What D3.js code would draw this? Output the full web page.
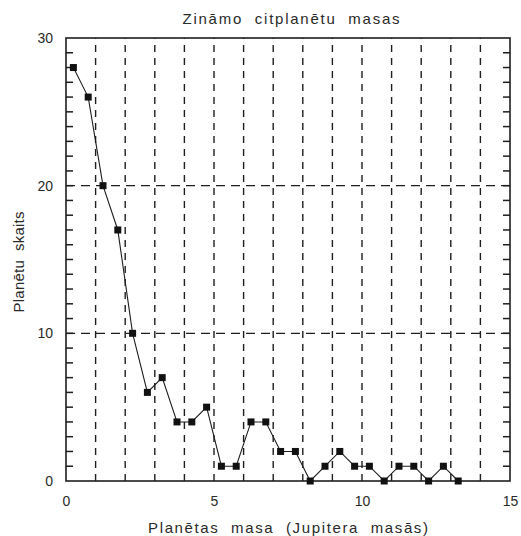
<!DOCTYPE html>
<html>
<head>
<meta charset="utf-8">
<script src="https://cdn.jsdelivr.net/npm/d3@7"></script>
<style>
  body { margin: 0; background: #fff; }
  text { font-family: "Liberation Sans", "DejaVu Sans", sans-serif; fill: #2a2a2a; white-space: pre; }
</style>
</head>
<body>
<div id="chart"></div>
<script>
// Planet mass bins (Jupiter masses, bin centres) and planet counts
const masses = [0.25, 0.75, 1.25, 1.75, 2.25, 2.75, 3.25, 3.75, 4.25, 4.75, 5.25, 5.75, 6.25, 6.75,
                7.25, 7.75, 8.25, 8.75, 9.25, 9.75, 10.25, 10.75, 11.25, 11.75, 12.25, 12.75, 13.25];
const counts = [28, 26, 20, 17, 10, 6, 7, 4, 4, 5, 1, 1, 4, 4,
                2, 2, 0, 1, 2, 1, 1, 0, 1, 1, 0, 1, 0];
const xTicks = [0, 5, 10, 15];
const yTicks = [0, 10, 20, 30];
const xGrid = d3.range(1, 15);
const yGrid = [10, 20];
const yMinor = d3.range(1, 30);

const width = 521;
const height = 536;
const ink = "#1e1e1e";

const svg = d3.select("#chart")
    .append("svg")
    .attr("width", width)
    .attr("height", height);

const x = d3.scaleLinear().domain([0, 15]).range([66, 510]);
const y = d3.scaleLinear().domain([0, 30]).range([481, 38]);

// dashed grid
svg.selectAll("line.vgrid")
    .data(xGrid)
    .enter()
    .append("line")
    .attr("class", "vgrid")
    .attr("x1", d => x(d)).attr("x2", d => x(d))
    .attr("y1", y(0)).attr("y2", y(30))
    .attr("stroke", ink)
    .attr("stroke-width", 1.4)
    .attr("stroke-dasharray", "7,6");

svg.selectAll("line.hgrid")
    .data(yGrid)
    .enter()
    .append("line")
    .attr("class", "hgrid")
    .attr("x1", x(0)).attr("x2", x(15))
    .attr("y1", d => y(d)).attr("y2", d => y(d))
    .attr("stroke", ink)
    .attr("stroke-width", 1.4)
    .attr("stroke-dasharray", "9,6");

// minor ticks on both vertical sides, pointing inwards
svg.selectAll("line.ltick")
    .data(yMinor)
    .enter()
    .append("line")
    .attr("class", "ltick")
    .attr("x1", x(0)).attr("x2", x(0) + 7)
    .attr("y1", d => y(d)).attr("y2", d => y(d))
    .attr("stroke", ink)
    .attr("stroke-width", 1.5);

svg.selectAll("line.rtick")
    .data(yMinor)
    .enter()
    .append("line")
    .attr("class", "rtick")
    .attr("x1", x(15) - 7).attr("x2", x(15))
    .attr("y1", d => y(d)).attr("y2", d => y(d))
    .attr("stroke", ink)
    .attr("stroke-width", 1.5);

// tick labels
svg.append("g")
    .attr("transform", `translate(${x(0)},0)`)
    .call(d3.axisLeft(y).tickValues(yTicks).tickSize(0).tickPadding(13).tickFormat(d3.format("d")))
    .call(g => g.select(".domain").remove())
    .call(g => g.selectAll("text")
        .style("font-family", "Liberation Sans, sans-serif")
        .style("font-size", "14px")
        .attr("fill", "#2a2a2a"));

svg.append("g")
    .attr("transform", `translate(0,${y(0)})`)
    .call(d3.axisBottom(x).tickValues(xTicks).tickSize(0).tickPadding(15).tickFormat(d3.format("d")))
    .call(g => g.select(".domain").remove())
    .call(g => g.selectAll("text")
        .style("font-family", "Liberation Sans, sans-serif")
        .style("font-size", "14px")
        .attr("fill", "#2a2a2a"));

// frame
svg.append("rect")
    .attr("x", x(0)).attr("y", y(30))
    .attr("width", x(15) - x(0)).attr("height", y(0) - y(30))
    .attr("fill", "none")
    .attr("stroke", ink)
    .attr("stroke-width", 1.6);

// data line and square markers
const pts = masses.map((m, i) => ({ m: m, n: counts[i] }));

svg.append("path")
    .datum(pts)
    .attr("fill", "none")
    .attr("stroke", ink)
    .attr("stroke-width", 1.1)
    .attr("d", d3.line().x(d => x(d.m)).y(d => y(d.n)));

svg.selectAll("rect.pt")
    .data(pts)
    .enter()
    .append("rect")
    .attr("class", "pt")
    .attr("x", d => x(d.m) - 3.5)
    .attr("y", d => y(d.n) - 3.5)
    .attr("width", 7)
    .attr("height", 7)
    .attr("fill", "#111");

// titles
svg.append("text")
    .attr("x", 291).attr("y", 24)
    .attr("text-anchor", "middle")
    .attr("textLength", 217)
    .attr("lengthAdjust", "spacing")
    .style("font-size", "15px")
    .text("Zināmo  citplanētu  masas");

svg.append("text")
    .attr("x", 288).attr("y", 533)
    .attr("text-anchor", "middle")
    .attr("textLength", 280)
    .attr("lengthAdjust", "spacing")
    .style("font-size", "15px")
    .text("Planētas  masa  (Jupitera  masās)");

svg.append("text")
    .attr("transform", "translate(24,262) rotate(-90)")
    .attr("text-anchor", "middle")
    .attr("textLength", 101)
    .attr("lengthAdjust", "spacing")
    .style("font-size", "15px")
    .text("Planētu  skaits");
</script>
</body>
</html>
